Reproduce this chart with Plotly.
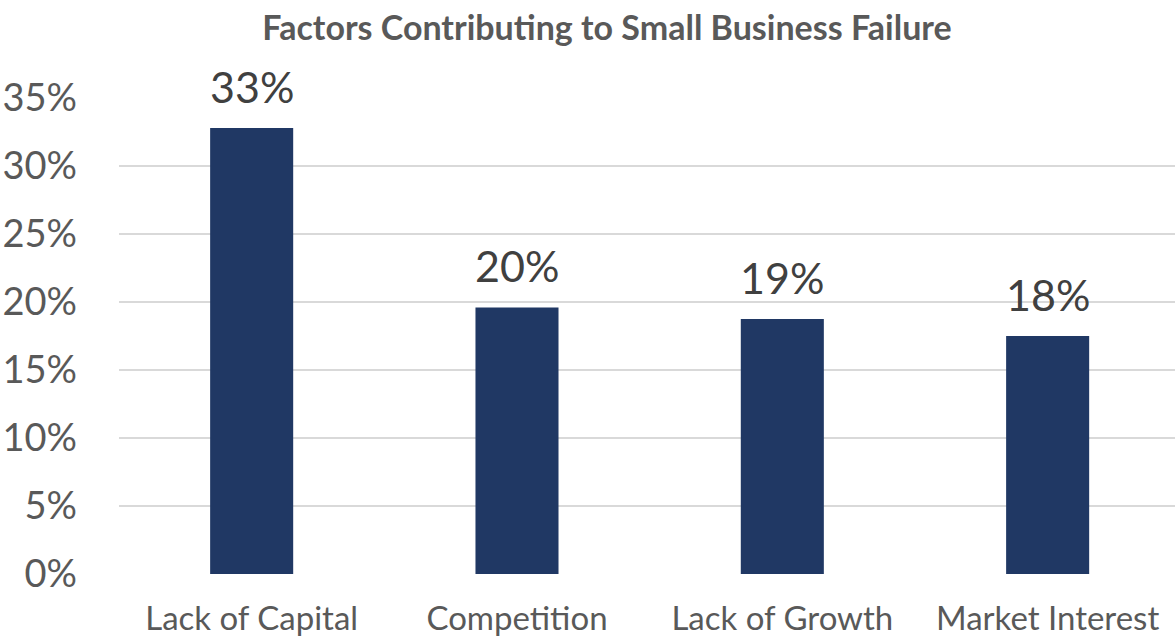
import plotly.graph_objects as go

categories = ["Lack of Capital", "Competition", "Lack of Growth", "Market Interest"]
values = [0.328, 0.196, 0.1875, 0.175]
value_labels = ["33%", "20%", "19%", "18%"]
y_ticks = [0, 0.05, 0.10, 0.15, 0.20, 0.25, 0.30, 0.35]
y_tick_labels = ["0%", "5%", "10%", "15%", "20%", "25%", "30%", "35%"]

FONT = "Lato"
fig = go.Figure(go.Bar(
    x=categories, y=values, marker=dict(color="#203864", line=dict(width=0)),
    hoverinfo="skip",
))

for c, v, t in zip(categories, values, value_labels):
    fig.add_annotation(x=c, y=v, text=t, showarrow=False, yanchor="bottom",
                       yshift=14, font=dict(family=FONT, size=43, color="#404040"))

fig.update_layout(
    width=1175, height=638,
    margin=dict(l=119, r=0, t=98, b=64),
    paper_bgcolor="white", plot_bgcolor="white",
    bargap=0.687,
    showlegend=False,
    title=dict(text="<b>Factors Contributing to Small Business Failure</b>",
               x=607 / 1175, xref="container", xanchor="center",
               y=1 - 28 / 638, yref="container", yanchor="middle",
               font=dict(family=FONT, size=34, color="#595959")),
    xaxis=dict(range=[-0.5, 3.48], showgrid=False, showline=False, ticks="",
               tickfont=dict(family=FONT, size=33, color="#595959"), ticklabelstandoff=22),
    yaxis=dict(range=[0, 0.35], tickvals=y_ticks, ticktext=y_tick_labels,
               showgrid=True, gridcolor="#d9d9d9", gridwidth=2, zeroline=False,
               showline=False, ticks="", ticklabelstandoff=41,
               tickfont=dict(family=FONT, size=38, color="#595959")),
)

fig.write_html("out.html")
